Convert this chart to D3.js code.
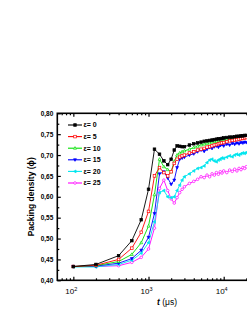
<!DOCTYPE html>
<html>
<head>
<meta charset="utf-8">
<script src="https://cdn.jsdelivr.net/npm/d3@7"></script>
<style>
  html, body { margin: 0; padding: 0; background: #fff; }
  svg { display: block; font-family: "Liberation Sans", Arial, sans-serif; }
</style>
</head>
<body>
<div id="plot"></div>
<script>
// time points (microseconds)
let times = [100, 200, 400, 600, 800, 1000, 1200, 1400, 1600, 1800, 2000, 2200, 2400, 2600, 2800,
    3000, 3500, 4000, 4500, 5000, 5500, 6000, 6500, 7000, 7500, 8000, 8500, 9000, 9500, 10000,
    11000, 12000, 13000, 14000, 15000, 16000, 17000, 18000, 19000, 20000, 22000, 24000];

let labels = ['ε= 0', 'ε= 5', 'ε= 10', 'ε= 15', 'ε= 20', 'ε= 25'];
let colors = ['#000000', '#ff0000', '#00e000', '#0000ff', '#00e5ee', '#ff00ff'];
let shapes = ['square', 'osquare', 'otriangle', 'tridown', 'trileft', 'ocircle'];

let eps0 = [0.433, 0.438, 0.459, 0.495, 0.545, 0.618, 0.714, 0.702, 0.686, 0.677, 0.690, 0.712, 0.722, 0.721, 0.720,
    0.720, 0.724, 0.727, 0.729, 0.731, 0.733, 0.734, 0.735, 0.736, 0.737, 0.738, 0.739, 0.739, 0.740, 0.741,
    0.742, 0.743, 0.743, 0.744, 0.745, 0.745, 0.746, 0.746, 0.747, 0.747, 0.748, 0.749];
let eps5 = [0.433, 0.436, 0.450, 0.477, 0.515, 0.565, 0.650, 0.670, 0.658, 0.650, 0.660, 0.680, 0.690, 0.695, 0.698,
    0.700, 0.705, 0.708, 0.712, 0.714, 0.716, 0.719, 0.720, 0.722, 0.724, 0.725, 0.727, 0.728, 0.729, 0.730,
    0.732, 0.734, 0.735, 0.736, 0.737, 0.738, 0.739, 0.740, 0.741, 0.742, 0.743, 0.744];
let eps10 = [0.433, 0.435, 0.445, 0.462, 0.490, 0.530, 0.605, 0.690, 0.672, 0.665, 0.660, 0.685, 0.700, 0.705, 0.708,
    0.710, 0.714, 0.718, 0.721, 0.724, 0.726, 0.728, 0.729, 0.731, 0.732, 0.733, 0.734, 0.735, 0.736, 0.737,
    0.738, 0.739, 0.740, 0.741, 0.742, 0.743, 0.743, 0.744, 0.745, 0.745, 0.746, 0.747];
let eps15 = [0.433, 0.434, 0.441, 0.452, 0.472, 0.503, 0.560, 0.655, 0.660, 0.645, 0.630, 0.640, 0.670, 0.690, 0.693,
    0.695, 0.700, 0.703, 0.708, 0.712, 0.709, 0.714, 0.718, 0.716, 0.720, 0.722, 0.719, 0.723, 0.725, 0.722,
    0.726, 0.724, 0.728, 0.726, 0.729, 0.727, 0.730, 0.729, 0.731, 0.730, 0.732, 0.733];
let eps20 = [0.432, 0.432, 0.438, 0.448, 0.465, 0.490, 0.540, 0.610, 0.615, 0.600, 0.598, 0.600, 0.615, 0.628, 0.640,
    0.648, 0.655, 0.662, 0.668, 0.670, 0.674, 0.682, 0.688, 0.690, 0.686, 0.684, 0.688, 0.690, 0.693, 0.692,
    0.695, 0.698, 0.696, 0.700, 0.702, 0.700, 0.703, 0.705, 0.704, 0.706, 0.707, 0.708];
let eps25 = [0.433, 0.433, 0.435, 0.443, 0.455, 0.475, 0.525, 0.620, 0.640, 0.615, 0.595, 0.585, 0.598, 0.610, 0.618,
    0.624, 0.632, 0.637, 0.642, 0.648, 0.646, 0.652, 0.648, 0.655, 0.652, 0.658, 0.654, 0.660, 0.657, 0.662,
    0.658, 0.664, 0.661, 0.666, 0.662, 0.668, 0.665, 0.670, 0.668, 0.672, 0.674, 0.676];

let series = [eps0, eps5, eps10, eps15, eps20, eps25];

let yTicks = [0.40, 0.45, 0.50, 0.55, 0.60, 0.65, 0.70, 0.75, 0.80];
let xTicks = [100, 1000, 10000];

let width = 247, height = 319;

let svg = d3.select('#plot')
    .append('svg')
        .attr('width', width)
        .attr('height', height);

let x = d3.scaleLog()
    .domain([61.2, 39800])
    .range([57.3, 268.8]);

let y = d3.scaleLinear()
    .domain([0.40, 0.80])
    .range([280.3, 113.3]);

// minor ticks
let xMinor = [];
[10, 100, 1000, 10000].forEach(function(d) {
    for (let k = 2; k <= 9; k++) {
        let v = d * k;
        if (v > x.domain()[0] && v < x.domain()[1]) xMinor.push(v);
    }
});
let yMinor = [0.425, 0.475, 0.525, 0.575, 0.625, 0.675, 0.725, 0.775];

let fmt = d => d.toFixed(2).replace('.', ',');

// bottom axis
let gx = svg.append('g')
    .attr('transform', 'translate(0,' + y(0.40) + ')')
    .call(d3.axisBottom(x).tickValues(xTicks).tickSize(-3.5).tickPadding(6).tickFormat(''));
gx.select('.domain').remove();
svg.append('g')
    .attr('transform', 'translate(0,' + y(0.40) + ')')
    .call(d3.axisBottom(x).tickValues(xMinor).tickSize(-2).tickFormat(''))
    .select('.domain').remove();

// top axis
svg.append('g')
    .attr('transform', 'translate(0,' + y(0.80) + ')')
    .call(d3.axisTop(x).tickValues(xTicks).tickSize(-3.5).tickFormat(''))
    .select('.domain').remove();
svg.append('g')
    .attr('transform', 'translate(0,' + y(0.80) + ')')
    .call(d3.axisTop(x).tickValues(xMinor).tickSize(-2).tickFormat(''))
    .select('.domain').remove();

// left axis
let gy = svg.append('g')
    .attr('transform', 'translate(' + x.range()[0] + ',0)')
    .call(d3.axisLeft(y).tickValues(yTicks).tickSize(-3.5).tickPadding(4).tickFormat(fmt));
gy.select('.domain').remove();
gy.selectAll('text')
    .attr('x', -4)
    .style('font-size', '6.5px')
    .style('font-weight', 'bold')
    .attr('fill', '#000');
svg.append('g')
    .attr('transform', 'translate(' + x.range()[0] + ',0)')
    .call(d3.axisLeft(y).tickValues(yMinor).tickSize(-2).tickFormat(''))
    .select('.domain').remove();

svg.selectAll('.tick line').attr('stroke', '#000').attr('stroke-width', 1.2);

// x tick labels with superscripts
xTicks.forEach(function(d) {
    let t = svg.append('text')
        .attr('x', x(d) - 2)
        .attr('y', 294)
        .attr('text-anchor', 'middle')
        .style('font-size', '8px');
    t.append('tspan').text('10');
    t.append('tspan').attr('dy', -3.5).style('font-size', '5.5px').text(Math.log10(d));
});

// frame
svg.append('rect')
    .attr('x', x.range()[0])
    .attr('y', y(0.80))
    .attr('width', x.range()[1] - x.range()[0])
    .attr('height', y(0.40) - y(0.80))
    .attr('fill', 'none')
    .attr('stroke', '#000')
    .attr('stroke-width', 1.6);

// axis titles
svg.append('text')
    .attr('transform', 'translate(34,' + ((y(0.40) + y(0.80)) / 2) + ') rotate(-90)')
    .attr('text-anchor', 'middle')
    .style('font-size', '8.5px')
    .style('font-weight', 'bold')
    .text('Packing density (ϕ)');

let xt = svg.append('text')
    .attr('x', 167)
    .attr('y', 305)
    .attr('text-anchor', 'middle')
    .style('font-size', '8.5px');
xt.append('tspan').style('font-style', 'italic').style('font-weight', 'bold').text('t');
xt.append('tspan').text(' (μs)');

// markers
function drawMarker(g, shape, color, cx, cy, s) {
    if (shape === 'square' || shape === 'osquare') {
        g.append('rect')
            .attr('x', cx - s).attr('y', cy - s)
            .attr('width', 2 * s).attr('height', 2 * s)
            .attr('fill', shape === 'square' ? color : '#fff')
            .attr('stroke', color).attr('stroke-width', 0.7);
    } else if (shape === 'ocircle') {
        g.append('circle')
            .attr('cx', cx).attr('cy', cy).attr('r', s)
            .attr('fill', '#fff').attr('stroke', color).attr('stroke-width', 0.7);
    } else {
        let pts;
        if (shape === 'otriangle') pts = [[cx, cy - s * 1.2], [cx - s * 1.1, cy + s * 0.8], [cx + s * 1.1, cy + s * 0.8]];
        else if (shape === 'tridown') pts = [[cx, cy + s * 1.2], [cx - s * 1.1, cy - s * 0.8], [cx + s * 1.1, cy - s * 0.8]];
        else pts = [[cx - s * 1.2, cy], [cx + s * 0.8, cy - s * 1.1], [cx + s * 0.8, cy + s * 1.1]];
        g.append('polygon')
            .attr('points', pts.map(p => p.join(',')).join(' '))
            .attr('fill', shape === 'otriangle' ? '#fff' : color)
            .attr('stroke', color).attr('stroke-width', 0.7);
    }
}

let line = d3.line()
    .x(function(d) { return x(d.t) })
    .y(function(d) { return y(d.v) });

let plot = svg.append('g');

// draw from last to first so black is on top
for (let i = series.length - 1; i >= 0; i--) {
    let pts = times.map(function(t, k) { return { t: t, v: series[i][k] }; });
    plot.append('path')
        .attr('d', line(pts))
        .attr('stroke', colors[i])
        .attr('stroke-width', 0.9)
        .attr('fill', 'none');
    let mg = plot.append('g');
    pts.forEach(function(d) {
        drawMarker(mg, shapes[i], colors[i], x(d.t), y(d.v), 1.3);
    });
}

// legend
let legend = svg.append('g');
labels.forEach(function(name, i) {
    let ly = 125 + i * 11.6;
    legend.append('line')
        .attr('x1', 68).attr('x2', 82)
        .attr('y1', ly).attr('y2', ly)
        .attr('stroke', colors[i]).attr('stroke-width', 1.1);
    drawMarker(legend, shapes[i], colors[i], 75, ly, 1.3);
    legend.append('text')
        .attr('x', 83.5)
        .attr('y', ly + 2.4)
        .style('font-size', '7px')
        .style('font-weight', 'bold')
        .text(name);
});
</script>
</body>
</html>
